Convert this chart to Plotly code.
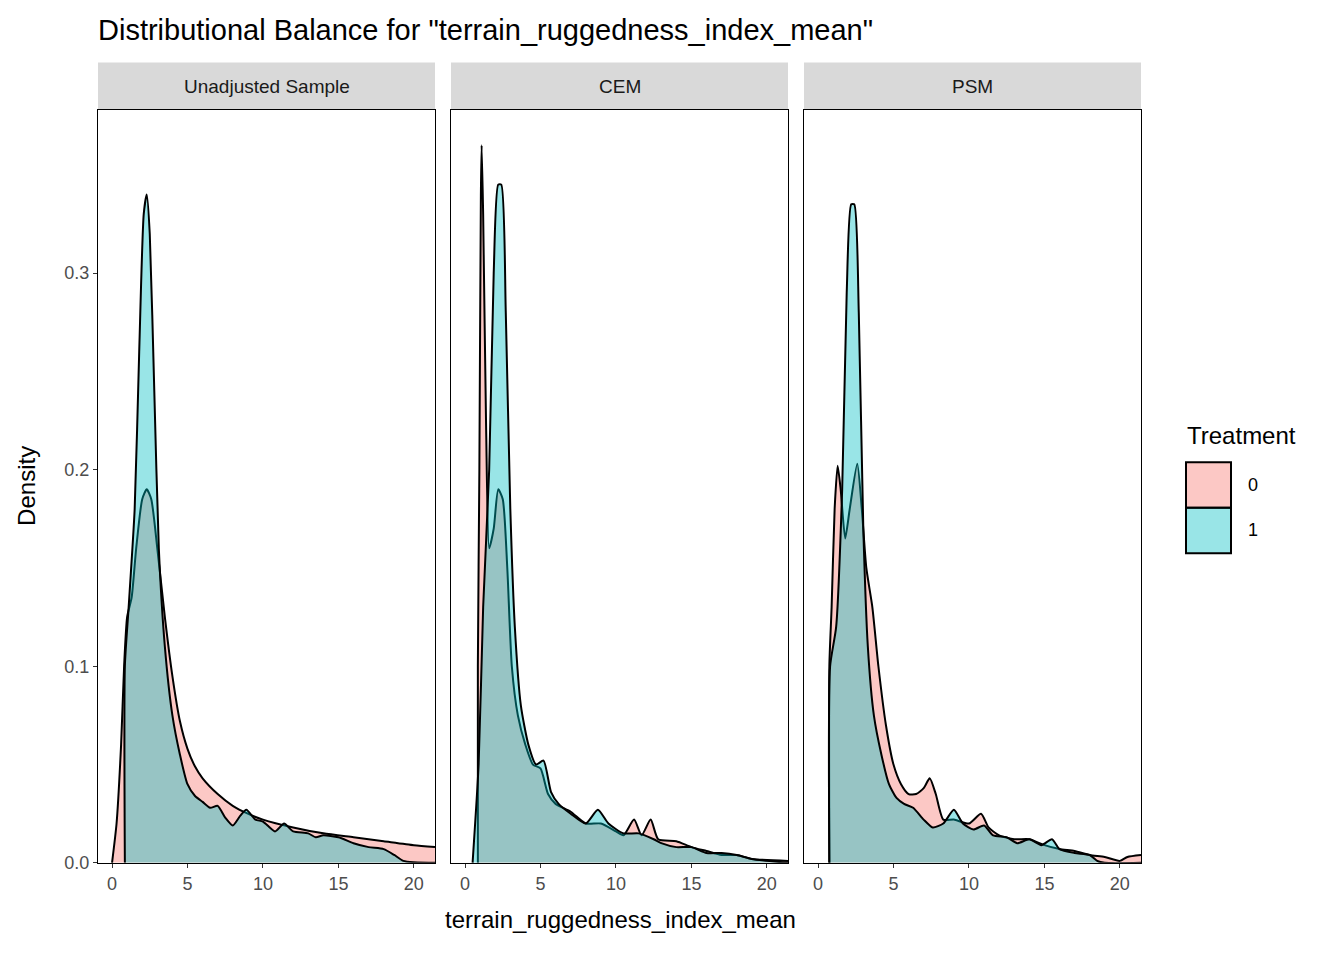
import plotly.graph_objects as go

panels = ["Unadjusted Sample", "CEM", "PSM"]
x_ticks = [0, 5, 10, 15, 20]
y_ticks = [0.0, 0.1, 0.2, 0.3]
y_tick_labels = ["0.0", "0.1", "0.2", "0.3"]

unadj_0_x = [0,0.3,0.6,0.8,1.0,1.3,1.6,2.0,2.3,2.6,3.0,3.5,4.0,4.5,5,5.5,6,7,8,9,10,12,14,16,18,20,21.4]
unadj_0_y = [0,0.02,0.06,0.1,0.125,0.135,0.16,0.185,0.19,0.185,0.16,0.125,0.095,0.072,0.058,0.049,0.043,0.035,0.029,0.025,0.022,0.018,0.015,0.013,0.011,0.009,0.008]
unadj_1_x = [0.85,0.85,1.1,1.5,1.8,2.1,2.3,2.5,2.8,3.1,3.5,4,4.5,5,5.5,6,6.5,7,7.5,8,8.5,8.9,9.5,10,10.8,11.4,12,13,13.5,14,15,16,17,18,18.7,19.3,21.4]
unadj_1_y = [0,0.1,0.13,0.18,0.26,0.33,0.34,0.32,0.24,0.16,0.11,0.075,0.055,0.04,0.034,0.031,0.028,0.029,0.023,0.019,0.024,0.027,0.022,0.021,0.016,0.02,0.016,0.015,0.013,0.014,0.013,0.01,0.008,0.007,0.004,0.001,0.0]
cem_0_x = [0.85,0.85,0.95,1.05,1.1,1.2,1.4,1.6,1.9,2.2,2.5,2.8,3.1,3.5,4,4.5,5,5.5,6,7,8,9,10,10.5,11.2,11.7,12.3,12.8,14,15,16,17,18,19,21.4]
cem_0_y = [0,0.1,0.2,0.34,0.365,0.33,0.22,0.16,0.17,0.19,0.185,0.15,0.1,0.075,0.06,0.05,0.048,0.035,0.03,0.026,0.02,0.02,0.016,0.014,0.022,0.014,0.022,0.012,0.011,0.008,0.006,0.004,0.004,0.002,0.001]
cem_1_x = [0.5,0.9,1.2,1.6,1.9,2.2,2.4,2.7,3.0,3.3,3.7,4.2,4.7,5.2,5.7,6.2,7,8,8.8,9.5,10.5,11.5,12.5,13,14,15,16,17,18,19,21.4]
cem_1_y = [0,0.05,0.13,0.2,0.3,0.345,0.345,0.28,0.18,0.12,0.08,0.06,0.05,0.052,0.036,0.03,0.025,0.02,0.027,0.02,0.015,0.015,0.012,0.01,0.008,0.008,0.005,0.005,0.004,0.002,0.0]
psm_0_x = [0.75,0.75,0.9,1.1,1.3,1.5,1.8,2.1,2.6,2.9,3.2,3.6,4,4.5,5,5.5,6,6.5,7,7.4,7.8,8.3,9,10,10.8,11.3,12,13,14,15,16,17,18,19,20,20.5,21.4]
psm_0_y = [0,0.1,0.13,0.18,0.202,0.19,0.165,0.18,0.203,0.18,0.15,0.13,0.1,0.07,0.05,0.04,0.035,0.035,0.038,0.043,0.035,0.022,0.022,0.02,0.025,0.018,0.014,0.012,0.012,0.009,0.007,0.006,0.004,0.003,0.001,0.003,0.004]
psm_1_x = [0.75,0.8,1.2,1.6,1.9,2.2,2.4,2.7,3.0,3.3,3.7,4.2,4.7,5.2,5.7,6.3,7,7.6,8.3,9,9.6,10.3,11,11.6,12.5,13.2,14,14.8,15.5,16,17,18,18.5,19,21.4]
psm_1_y = [0,0.1,0.12,0.19,0.29,0.335,0.335,0.28,0.17,0.11,0.075,0.055,0.04,0.033,0.03,0.028,0.022,0.018,0.02,0.027,0.02,0.017,0.019,0.014,0.013,0.01,0.012,0.009,0.012,0.007,0.005,0.004,0.001,0.0,0.0]

series = [
    [(unadj_0_x, unadj_0_y), (unadj_1_x, unadj_1_y)],
    [(cem_0_x, cem_0_y), (cem_1_x, cem_1_y)],
    [(psm_0_x, psm_0_y), (psm_1_x, psm_1_y)],
]
fills = ["rgba(248,118,109,0.4)", "rgba(0,191,196,0.4)"]

OFF = 8
W, H = 1344 - 2 * OFF, 960 - 2 * OFF
def PX(x): return (x - OFF) / W
def PY(y): return (H - (y - OFF)) / H

px_left = [98, 451, 804]
pw = 337
top, bot = 111, 872
FONT = "Liberation Sans, Arial, sans-serif"

fig = go.Figure()
layout = dict(width=W, height=H, margin=dict(l=0, r=0, t=0, b=0),
              plot_bgcolor="white", paper_bgcolor="white", showlegend=False,
              font=dict(family=FONT))
shapes, annots = [], []
for i, name in enumerate(panels):
    xa = "x" if i == 0 else f"x{i+1}"
    ya = "y" if i == 0 else f"y{i+1}"
    for k, (xs, ys) in enumerate(series[i]):
        fig.add_trace(go.Scatter(x=xs, y=ys, mode="lines", fill="tozeroy",
                                 fillcolor=fills[k],
                                 line=dict(color="black", width=2, shape="spline", smoothing=0.6),
                                 xaxis=xa, yaxis=ya, hoverinfo="skip"))
    dom = [PX(px_left[i]), PX(px_left[i] + pw)]
    key = "xaxis" if i == 0 else f"xaxis{i+1}"
    ykey = "yaxis" if i == 0 else f"yaxis{i+1}"
    layout[key] = dict(domain=dom, range=[-0.93, 21.4], tickvals=x_ticks, ticks="outside",
                       ticklen=4, tickcolor="#333", tickfont=dict(size=18, color="#4d4d4d"),
                       showgrid=False, zeroline=False, showline=True, mirror=True,
                       linecolor="black", linewidth=1.2, anchor=ya)
    layout[ykey] = dict(domain=[PY(bot), PY(top)], range=[0, 0.383],
                        tickvals=y_ticks, ticktext=y_tick_labels,
                        showticklabels=(i == 0), ticks="outside" if i == 0 else "",
                        ticklen=4, tickcolor="#333", tickfont=dict(size=18, color="#4d4d4d"),
                        showgrid=False, zeroline=False, showline=True, mirror=True,
                        linecolor="black", linewidth=1.2, anchor=xa)
    shapes.append(dict(type="rect", xref="paper", yref="paper",
                       x0=PX(px_left[i]), x1=PX(px_left[i] + pw),
                       y0=PY(110), y1=PY(63),
                       fillcolor="#d9d9d9", line=dict(width=0)))
    annots.append(dict(text=name, xref="paper", yref="paper", x=PX(px_left[i] + pw / 2),
                       y=PY(87), showarrow=False, font=dict(size=19, color="#1a1a1a"),
                       xanchor="center", yanchor="middle"))

for k, lab in enumerate(["0", "1"]):
    y0, y1 = 467 + k * 46, 513 + k * 46
    shapes.append(dict(type="rect", xref="paper", yref="paper", x0=PX(1186), x1=PX(1231),
                       y0=PY(y1), y1=PY(y0), fillcolor=fills[k],
                       line=dict(color="black", width=2)))
    annots.append(dict(text=lab, xref="paper", yref="paper", x=PX(1246), y=PY((y0 + y1) / 2),
                       showarrow=False, xanchor="left", yanchor="middle", font=dict(size=18, color="black")))
annots.append(dict(text="Treatment", xref="paper", yref="paper", x=PX(1185), y=PY(440),
                   showarrow=False, xanchor="left", yanchor="middle", font=dict(size=24, color="black")))
annots.append(dict(text='Distributional Balance for "terrain_ruggedness_index_mean"', xref="paper",
                   yref="paper", x=PX(96), y=PY(30), showarrow=False, xanchor="left",
                   yanchor="middle", font=dict(size=29, color="black")))
annots.append(dict(text="terrain_ruggedness_index_mean", xref="paper", yref="paper", x=PX(620),
                   y=PY(929), showarrow=False, xanchor="center", yanchor="middle",
                   font=dict(size=24, color="black")))
annots.append(dict(text="Density", xref="paper", yref="paper", x=PX(27), y=PY(491),
                   showarrow=False, textangle=-90, xanchor="center", yanchor="middle",
                   font=dict(size=24, color="black")))
layout["shapes"] = shapes
layout["annotations"] = annots
fig.update_layout(**layout)
fig.write_html("out.html")
